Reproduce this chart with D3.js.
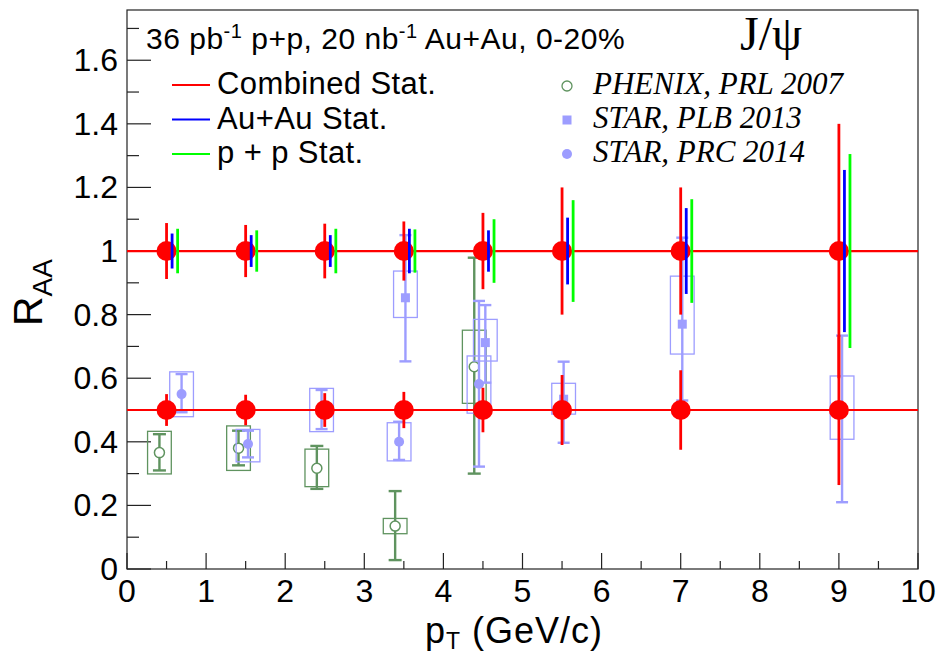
<!DOCTYPE html>
<html>
<head>
<meta charset="utf-8">
<script src="https://cdn.jsdelivr.net/npm/d3@7"></script>
<style>
  body { margin: 0; background: #fff; }
  text { font-family: "Liberation Sans", Arial, sans-serif; }
</style>
</head>
<body>
<div class="vis-raa"></div>
<script>
// J/psi R_AA, 0-20% Au+Au: projected precision + existing measurements

// projected points (sit on 1 and 0.5)
const ptProj = [0.5, 1.5, 2.5, 3.5, 4.5, 5.5, 7, 9];
const raaHigh = [1, 1, 1, 1, 1, 1, 1, 1];
const combHigh = [0.088, 0.082, 0.086, 0.093, 0.12, 0.2, 0.2, 0.4];
const auauHigh = [0.055, 0.05, 0.05, 0.07, 0.065, 0.105, 0.135, 0.255];
const ppHigh = [0.07, 0.065, 0.07, 0.068, 0.1, 0.16, 0.163, 0.305];
const raaLow = [0.5, 0.5, 0.5, 0.5, 0.5, 0.5, 0.5, 0.5];
const combLow = [0.05, 0.048, 0.053, 0.057, 0.07, 0.11, 0.125, 0.236];

// PHENIX, PRL 2007
const phenixPt = [0.41, 1.41, 2.40, 3.39, 4.39];
const phenixRaa = [0.366, 0.38, 0.317, 0.135, 0.636];
const phenixStatUp = [0.058, 0.055, 0.07, 0.11, 0.343];
const phenixStatDn = [0.056, 0.054, 0.065, 0.107, 0.336];
const phenixSysUp = [0.067, 0.07, 0.06, 0.024, 0.115];
const phenixSysDn = [0.067, 0.07, 0.058, 0.024, 0.115];

// STAR, PLB 2013
const plbPt = [3.52, 4.53, 5.52, 7.02];
const plbRaa = [0.853, 0.712, 0.534, 0.77];
const plbStatUp = [0.197, 0.118, 0.118, 0.272];
const plbStatDn = [0.2, 0.126, 0.137, 0.24];
const plbSysUp = [0.084, 0.073, 0.05, 0.151];
const plbSysDn = [0.062, 0.058, 0.047, 0.094];

// STAR, PRC 2014
const prcPt = [0.69, 1.53, 2.46, 3.44, 4.45, 9.04];
const prcRaa = [0.55, 0.393, 0.5, 0.4, 0.582, 0.49];
const prcStatUp = [0.063, 0.042, 0.063, 0.063, 0.261, 0.244];
const prcStatDn = [0.057, 0.042, 0.06, 0.057, 0.26, 0.28];
const prcSysUp = [0.07, 0.046, 0.068, 0.06, 0.088, 0.117];
const prcSysDn = [0.071, 0.056, 0.068, 0.06, 0.092, 0.082];

const xTicks = [0, 1, 2, 3, 4, 5, 6, 7, 8, 9, 10];
const yTicks = [0, 0.2, 0.4, 0.6, 0.8, 1, 1.2, 1.4, 1.6];

const RED = "#ff0000", BLUE = "#0000ff", GREEN = "#00ff00";
const PHX = "#5f935f", STAR = "#9d9dff";

const W = 939, H = 658;
const margin = { top: 10, right: 21, bottom: 89, left: 127 };
const width = W - margin.left - margin.right;
const height = H - margin.top - margin.bottom;

const svg = d3.select(".vis-raa")
    .append("svg")
    .attr("width", W)
    .attr("height", H);

svg.append("rect").attr("width", W).attr("height", H).attr("fill", "#fff");

const g = svg.append("g")
    .attr("transform", `translate(${margin.left},${margin.top})`);

const x = d3.scaleLinear().domain([0, 10]).range([0, width]);
const y = d3.scaleLinear().domain([0, 1.758]).range([height, 0]);

// frame
g.append("rect")
    .attr("width", width).attr("height", height)
    .attr("fill", "none").attr("stroke", "#222").attr("stroke-width", 1.2);

// x axis ticks (inward, ROOT style)
const xMinor = d3.range(0.5, 10, 1);
g.selectAll(".xmaj").data(xTicks).join("line")
    .attr("x1", d => x(d)).attr("x2", d => x(d))
    .attr("y1", height).attr("y2", height - 16)
    .attr("stroke", "#222").attr("stroke-width", 1.2);
g.selectAll(".xmin").data(xMinor).join("line")
    .attr("x1", d => x(d)).attr("x2", d => x(d))
    .attr("y1", height).attr("y2", height - 8)
    .attr("stroke", "#222").attr("stroke-width", 1.2);
g.selectAll(".xlab").data(xTicks).join("text")
    .attr("x", d => x(d)).attr("y", height + 33)
    .attr("text-anchor", "middle")
    .attr("font-size", 32)
    .text(d => d);

// y axis ticks
const yMinor = d3.range(0.1, 1.75, 0.2);
g.selectAll(".ymaj").data(yTicks).join("line")
    .attr("x1", 0).attr("x2", 24)
    .attr("y1", d => y(d)).attr("y2", d => y(d))
    .attr("stroke", "#222").attr("stroke-width", 1.2);
g.selectAll(".ymin").data(yMinor).join("line")
    .attr("x1", 0).attr("x2", 12)
    .attr("y1", d => y(d)).attr("y2", d => y(d))
    .attr("stroke", "#222").attr("stroke-width", 1.2);
g.selectAll(".ylab").data(yTicks).join("text")
    .attr("x", -9).attr("y", d => y(d) + 11)
    .attr("text-anchor", "end")
    .attr("font-size", 32)
    .text(d => d);

// axis titles
const xt = g.append("text")
    .attr("x", 425 - margin.left).attr("y", height + 74)
    .attr("font-size", 36).style("letter-spacing", "1px");
xt.append("tspan").text("p");
xt.append("tspan").attr("dy", 6).attr("font-size", 23).text("T");
xt.append("tspan").attr("dy", -6).text(" (GeV/c)");

const yt = svg.append("text")
    .attr("transform", "translate(42,326) rotate(-90)")
    .attr("font-size", 41);
yt.append("tspan").text("R");
yt.append("tspan").attr("dy", 10).attr("font-size", 28).text("AA");

// helpers for measured points
const sysHalf = 0.15;
function measured(pt, raa, sUp, sDn, yUp, yDn, color, capW) {
    const grp = g.append("g");
    pt.forEach((p, i) => {
        grp.append("rect")
            .attr("x", x(p - sysHalf)).attr("width", x(p + sysHalf) - x(p - sysHalf))
            .attr("y", y(raa[i] + yUp[i])).attr("height", y(raa[i] - yDn[i]) - y(raa[i] + yUp[i]))
            .attr("fill", "none").attr("stroke", color).attr("stroke-width", 1.3);
        grp.append("line")
            .attr("x1", x(p)).attr("x2", x(p))
            .attr("y1", y(raa[i] + sUp[i])).attr("y2", y(raa[i] - sDn[i]))
            .attr("stroke", color).attr("stroke-width", 2.4);
        [raa[i] + sUp[i], raa[i] - sDn[i]].forEach(v => {
            grp.append("line")
                .attr("x1", x(p) - capW).attr("x2", x(p) + capW)
                .attr("y1", y(v)).attr("y2", y(v))
                .attr("stroke", color).attr("stroke-width", 2.4);
        });
    });
    return grp;
}

measured(phenixPt, phenixRaa, phenixStatUp, phenixStatDn, phenixSysUp, phenixSysDn, PHX, 6.5)
    .selectAll(null).data(phenixPt).join("circle")
    .attr("cx", d => x(d)).attr("cy", (d, i) => y(phenixRaa[i]))
    .attr("r", 5).attr("fill", "#fff").attr("stroke", PHX).attr("stroke-width", 1.5);

measured(plbPt, plbRaa, plbStatUp, plbStatDn, plbSysUp, plbSysDn, STAR, 6)
    .selectAll(null).data(plbPt).join("rect")
    .attr("x", d => x(d) - 4.5).attr("y", (d, i) => y(plbRaa[i]) - 4.5)
    .attr("width", 9).attr("height", 9).attr("fill", STAR);

measured(prcPt, prcRaa, prcStatUp, prcStatDn, prcSysUp, prcSysDn, STAR, 6)
    .selectAll(null).data(prcPt).join("circle")
    .attr("cx", d => x(d)).attr("cy", (d, i) => y(prcRaa[i]))
    .attr("r", 5).attr("fill", STAR);

// projection: reference lines, combined stat bars, points, split stat bars
[1, 0.5].forEach(v => {
    g.append("line")
        .attr("x1", 0).attr("x2", width)
        .attr("y1", y(v)).attr("y2", y(v))
        .attr("stroke", RED).attr("stroke-width", 2.2);
});

function vbars(vals, errs, dx, color) {
    g.append("g").selectAll("line").data(ptProj).join("line")
        .attr("x1", d => x(d + dx)).attr("x2", d => x(d + dx))
        .attr("y1", (d, i) => y(vals[i] + errs[i]))
        .attr("y2", (d, i) => y(vals[i] - errs[i]))
        .attr("stroke", color).attr("stroke-width", 2.8);
}

vbars(raaHigh, combHigh, 0, RED);
vbars(raaLow, combLow, 0, RED);

[raaHigh, raaLow].forEach(vals => {
    g.append("g").selectAll("circle").data(ptProj).join("circle")
        .attr("cx", d => x(d)).attr("cy", (d, i) => y(vals[i]))
        .attr("r", 10).attr("fill", RED);
});

vbars(raaHigh, auauHigh, 0.07, BLUE);
vbars(raaHigh, ppHigh, 0.14, GREEN);

// header texts
const hdr = svg.append("text").attr("x", 146).attr("y", 49)
    .attr("font-size", 30).style("letter-spacing", "0.5px");
hdr.append("tspan").text("36 pb");
hdr.append("tspan").attr("dy", -11).attr("font-size", 20).text("-1");
hdr.append("tspan").attr("dy", 11).text(" p+p, 20 nb");
hdr.append("tspan").attr("dy", -11).attr("font-size", 20).text("-1");
hdr.append("tspan").attr("dy", 11).text(" Au+Au, 0-20%");

svg.append("text")
    .attr("x", 740).attr("y", 50)
    .style("font-family", "'Liberation Serif', serif")
    .attr("font-size", 48)
    .text("J/ψ");

// left legend
const legL = [["Combined Stat.", RED], ["Au+Au Stat.", BLUE], ["p + p Stat.", GREEN]];
legL.forEach(([label, color], i) => {
    const row = svg.append("g").attr("transform", `translate(0, ${85 + i * 34.5})`);
    row.append("line").attr("x1", 172).attr("x2", 210)
        .attr("stroke", color).attr("stroke-width", 2.2);
    row.append("text").attr("x", 217).attr("y", 9)
        .attr("font-size", 31).style("letter-spacing", "0.4px")
        .text(label);
});

// right legend
const legR = ["PHENIX, PRL 2007", "STAR, PLB 2013", "STAR, PRC 2014"];
legR.forEach((label, i) => {
    const row = svg.append("g").attr("transform", `translate(567, ${86 + i * 34})`);
    if (i === 0) {
        row.append("circle").attr("r", 5).attr("fill", "#fff")
            .attr("stroke", PHX).attr("stroke-width", 1.3);
    } else if (i === 1) {
        row.append("rect").attr("x", -4.5).attr("y", -4.5)
            .attr("width", 9).attr("height", 9).attr("fill", STAR);
    } else {
        row.append("circle").attr("r", 5).attr("fill", STAR);
    }
    row.append("text").attr("x", 26).attr("y", 8)
        .style("font-family", "'Liberation Serif', serif")
        .style("font-style", "italic")
        .attr("font-size", 31)
        .text(label);
});
</script>
</body>
</html>
